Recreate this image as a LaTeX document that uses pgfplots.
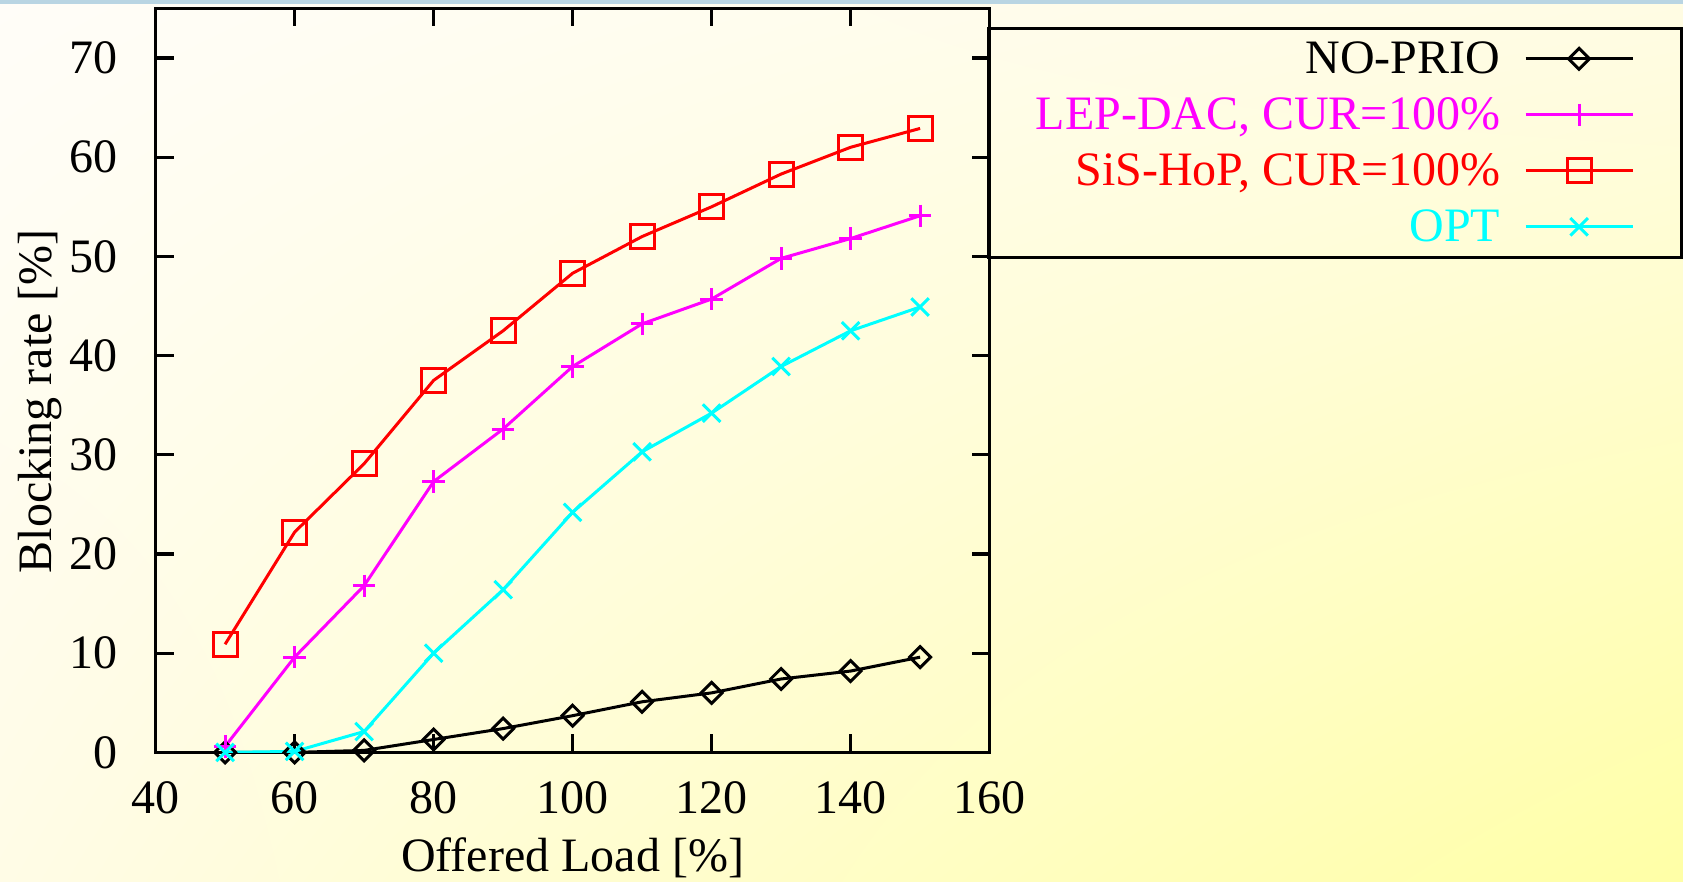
\documentclass[border=0pt]{standalone}
\usepackage{fontspec}
\setmainfont{Liberation Serif}
\usepackage{pgfplots}
\pgfplotsset{compat=1.18}
\usetikzlibrary{shadings}

\definecolor{bgUL}{HTML}{FFFDF8}
\definecolor{bgUR}{HTML}{FFFCE4}
\definecolor{bgLL}{HTML}{FFFCE6}
\definecolor{bgLR}{HTML}{FFFFA6}
\definecolor{topband}{HTML}{B9D5E3}
\definecolor{gpmagenta}{RGB}{255,0,255}
\definecolor{gpcyan}{RGB}{0,255,255}
\definecolor{gpred}{RGB}{255,0,0}

% offered load [%] vs blocking rate [%]
\pgfplotstableread{
x y
50 0
60 0
70 0.2
80 1.3
90 2.4
100 3.7
110 5.1
120 6.0
130 7.4
140 8.2
150 9.6
}\noprio
\pgfplotstableread{
x y
50 0.6
60 9.6
70 16.8
80 27.3
90 32.6
100 38.9
110 43.2
120 45.7
130 49.8
140 51.8
150 54.1
}\lepdac
\pgfplotstableread{
x y
50 10.9
60 22.2
70 29.1
80 37.5
90 42.5
100 48.3
110 52.0
120 55.0
130 58.3
140 61.0
150 62.9
}\sishop
\pgfplotstableread{
x y
50 0
60 0.1
70 2.1
80 10.0
90 16.4
100 24.2
110 30.3
120 34.2
130 38.9
140 42.5
150 44.9
}\opt

\begin{document}
\begin{tikzpicture}[font=\fontsize{24}{28}\selectfont]
\path[use as bounding box] (0,0) rectangle (841.5pt,441pt);
\shade[upper left=bgUL, upper right=bgUR, lower left=bgLL, lower right=bgLR] (0,0) rectangle (841.5pt,441pt);
\fill[topband] (0,439pt) rectangle (841.5pt,441pt);
\begin{axis}[
    at={(77.8pt,64.8pt)}, anchor=south west,
    scale only axis, width=417pt, height=372pt,
    xmin=40, xmax=160, ymin=0, ymax=75,
    xtick={40,60,...,160}, ytick={0,10,...,70},
    tick align=inside, major tick length=9pt,
    axis line style={line width=1.6pt},
    every tick/.style={black, line width=1.6pt},
    /pgf/number format/assume math mode=true,
    xticklabel style={yshift=-11pt},
    yticklabel style={xshift=-15.5pt},
    xlabel={Offered Load [\%]},
    ylabel={Blocking rate [\%]},
    xlabel style={at={(axis description cs:0.5,-0.16)}, anchor=base},
    ylabel style={at={(axis description cs:-0.1247,0.472)}, anchor=base},
    legend style={at={(0.997,0.9753)}, anchor=north west, draw=black, line width=1.6pt,
        fill=none, inner xsep=23.5pt, inner ysep=1.2pt, column sep=12pt,
        nodes={inner sep=0pt, minimum height=28pt}},
    legend cell align=right,
    legend plot pos=right,
    legend image code/.code={\draw[mark repeat=2,mark phase=2,#1] plot coordinates {(0pt,0pt) (26.75pt,0pt) (53.5pt,0pt)};},
    every axis plot/.append style={line width=1.5pt, mark options={solid, line width=1.5pt}},
]
\addplot[black, mark=square, mark size=3.7pt, mark options={rotate=45}] table {\noprio};
\addlegendentry{NO-PRIO}
\addplot[gpmagenta, mark=+, mark size=5.6pt] table {\lepdac};
\addlegendentry{\textcolor{gpmagenta}{LEP-DAC, CUR=100\%}}
\addplot[gpred, mark=square, mark size=6pt] table {\sishop};
\addlegendentry{\textcolor{gpred}{SiS-HoP, CUR=100\%}}
\addplot[gpcyan, mark=x, mark size=6.2pt] table {\opt};
\addlegendentry{\textcolor{gpcyan}{OPT}}
\end{axis}
\end{tikzpicture}
\end{document}
